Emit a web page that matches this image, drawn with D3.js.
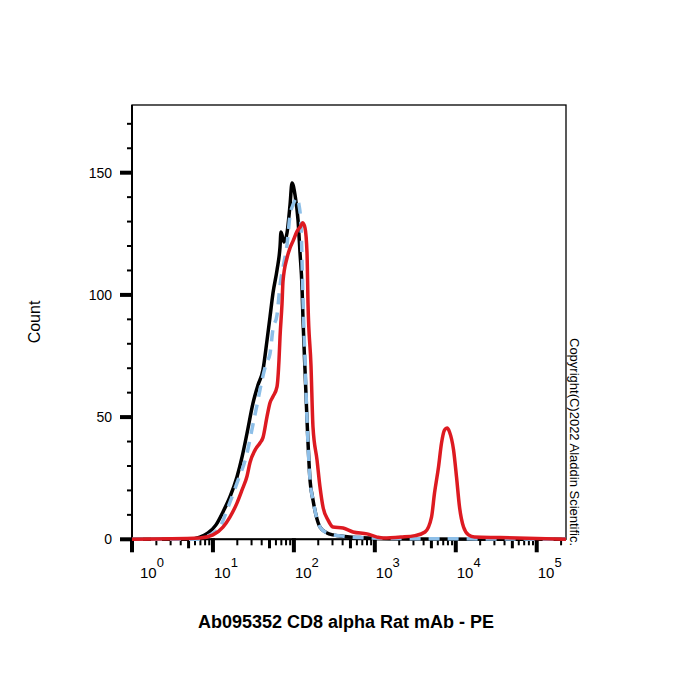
<!DOCTYPE html>
<html>
<head>
<meta charset="utf-8">
<script src="https://cdn.jsdelivr.net/npm/d3@7"></script>
<style>
  body { margin: 0; background: #fff; }
  text { font-family: "Liberation Sans", Arial, sans-serif; fill: #000; }
</style>
</head>
<body>
<div id="chart"></div>
<script>
// histogram traces (x = PE intensity, y = count)
var blackX = [1, 5.2, 6.9, 8.7, 10.9, 13.3, 16.2, 19.8, 22.9, 26.4, 31.3, 36.0, 41.5, 46.6, 50.7, 55.2, 61.9, 67.4, 69.3, 75.5, 82.2, 89.6, 94.8, 103.3, 112.5, 119.1, 126.0, 129.7, 137.2, 145.3, 158.2, 172.2, 187.6, 210.2, 256.6, 304.1, 428.5, 656, 1159, 3615, 230000];
var blackY = [0, 0, 0.9, 2.6, 5.9, 11.2, 17.3, 25.5, 33.7, 43.5, 55.8, 63.1, 69.3, 81.5, 91.0, 100.8, 110.2, 119.6, 125.7, 121.6, 125.3, 136.8, 145.8, 140.9, 130.6, 117.1, 103.2, 89.7, 69.3, 48.8, 24.3, 16.1, 9.9, 5.0, 2.6, 1.8, 1.1, 0.7, 0.3, 0.1, 0];

var blueX = [1, 6.0, 8.0, 9.7, 12.2, 15.4, 19.8, 26.4, 30.4, 35.0, 40.4, 45.3, 50.7, 55.2, 61.9, 67.4, 75.5, 82.2, 89.6, 97.5, 109.3, 115.7, 122.5, 126.0, 129.7, 137.2, 145.3, 158.2, 172.2, 187.6, 210.2, 256.6, 371.5, 656, 2049, 11270, 230000];
var blueY = [0, 0, 0.9, 2.2, 5.0, 13.2, 23.0, 35.3, 45.1, 54.9, 65.2, 71.7, 76.0, 86.1, 91.8, 104.0, 113.4, 120.4, 132.7, 136.8, 139.6, 136.8, 128.6, 114.3, 97.9, 73.4, 48.8, 24.3, 16.1, 9.9, 5.0, 2.6, 1.4, 0.7, 0.3, 0.2, 0];

var redX = [1, 6.9, 10.0, 13.3, 16.2, 19.8, 22.9, 26.4, 28.7, 33.1, 38.1, 41.5, 46.6, 50.7, 55.2, 61.9, 65.5, 67.4, 71.3, 73.4, 82.2, 89.6, 97.5, 109.3, 120.8, 128.5, 137.2, 145.3, 149.4, 162.7, 172.2, 193.2, 210.2, 229, 264, 304, 405, 538, 800, 1064, 1262, 2105, 3138, 4170, 5015, 5462, 6120, 6666, 7261, 7796, 8371, 9380, 10215, 11125, 12470, 14360, 17030, 35220, 230000];
var redY = [0, 0.5, 1.8, 5.0, 9.1, 14.8, 20.2, 25.9, 31.4, 36.5, 39.4, 41.6, 50.3, 55.9, 58.4, 62.5, 73.4, 82.8, 96.2, 105.6, 115.1, 119.2, 122.0, 126.0, 128.0, 129.5, 127.4, 117.1, 96.7, 71.0, 45.9, 32.4, 21.4, 13.2, 7.9, 5.0, 4.6, 3.0, 2.2, 0.9, 0.5, 0.9, 1.5, 3.0, 9.1, 18.9, 29.6, 39.4, 44.7, 45.5, 43.9, 36.6, 25.5, 13.2, 5.0, 1.8, 0.9, 0.7, 0];

var xDecades = [1, 10, 100, 1000, 10000, 100000];
var xExponents = ["0", "1", "2", "3", "4", "5"];
var yMajor = [0, 50, 100, 150];

var xTitle = "Ab095352 CD8 alpha Rat mAb - PE";
var yTitle = "Count";
var copyright = "Copyright(C)2022 Aladdin Scientific.";

var W = 700, H = 700;
var plotL = 132, plotR = 566, plotT = 105, plotB = 539.3;

var svg = d3.select("#chart").append("svg")
    .attr("width", W)
    .attr("height", H);

var x = d3.scaleLog().domain([1, 230000]).range([plotL, plotR]);
var y = d3.scaleLinear().domain([0, 177.7]).range([plotB, plotT]);

// frame
svg.append("rect")
    .attr("x", plotL).attr("y", plotT)
    .attr("width", plotR - plotL).attr("height", plotB - plotT)
    .attr("fill", "none").attr("stroke", "#000").attr("stroke-width", 1.3);

// y axis ticks
var yMinor = d3.range(0, 178, 10).filter(v => yMajor.indexOf(v) < 0);
svg.selectAll(".ymin").data(yMinor).enter().append("line")
    .attr("x1", plotL - 5).attr("x2", plotL)
    .attr("y1", d => y(d)).attr("y2", d => y(d))
    .attr("stroke", "#000").attr("stroke-width", 2);
svg.selectAll(".ymaj").data(yMajor).enter().append("line")
    .attr("x1", plotL - 12).attr("x2", plotL)
    .attr("y1", d => y(d)).attr("y2", d => y(d))
    .attr("stroke", "#000").attr("stroke-width", 4);
svg.selectAll(".ylab").data(yMajor).enter().append("text")
    .attr("x", 112).attr("y", d => y(d) + 5)
    .attr("text-anchor", "end")
    .style("font-size", "14px")
    .text(d => d);

// x axis ticks (log decades + 2..9 minors)
var xMinor = [];
xDecades.forEach(function(d) {
    for (var k = 2; k <= 9; k++) if (d * k <= 230000) xMinor.push(d * k);
});
svg.selectAll(".xmin").data(xMinor).enter().append("line")
    .attr("x1", d => x(d)).attr("x2", d => x(d))
    .attr("y1", plotB).attr("y2", d => String(d)[0] == "5" ? plotB + 9 : plotB + 6)
    .attr("stroke", "#000").attr("stroke-width", d => String(d)[0] == "5" ? 3 : 2);
svg.selectAll(".xmaj").data(xDecades).enter().append("line")
    .attr("x1", d => x(d)).attr("x2", d => x(d))
    .attr("y1", plotB - 1).attr("y2", plotB + 13)
    .attr("stroke", "#000").attr("stroke-width", 4);

// axis lines
svg.append("line").attr("x1", plotL).attr("x2", plotL).attr("y1", plotT).attr("y2", plotB + 1)
    .attr("stroke", "#000").attr("stroke-width", 2);
svg.append("line").attr("x1", plotL).attr("x2", plotR).attr("y1", plotB).attr("y2", plotB)
    .attr("stroke", "#000").attr("stroke-width", 2);

var xl = svg.selectAll(".xlab").data(xDecades).enter().append("text")
    .attr("x", d => Math.max(x(d) + 1, 140))
    .attr("y", 578)
    .style("font-size", "15px");
xl.append("tspan").text("10");
xl.append("tspan").attr("dy", -11).style("font-size", "13px").text((d, i) => xExponents[i]);

// histogram traces
var line = d3.line()
    .x(d => x(d[0]))
    .y(d => y(d[1]))
    .curve(d3.curveMonotoneX);

svg.append("path")
    .attr("d", line(d3.zip(blackX, blackY)))
    .attr("fill", "none").attr("stroke", "#000").attr("stroke-width", 3.5);
svg.append("path")
    .attr("d", line(d3.zip(blueX, blueY)))
    .attr("fill", "none").attr("stroke", "#8dbfe8").attr("stroke-width", 3.5)
    .attr("stroke-dasharray", "11,8");
svg.append("path")
    .attr("d", line(d3.zip(redX, redY)))
    .attr("fill", "none").attr("stroke", "#dd1a21").attr("stroke-width", 3.5);

// titles
svg.append("text")
    .attr("x", 346).attr("y", 628)
    .attr("text-anchor", "middle")
    .style("font-size", "18px").style("font-weight", "bold")
    .text(xTitle);

svg.append("text")
    .attr("transform", "translate(40, 322) rotate(-90)")
    .attr("text-anchor", "middle")
    .style("font-size", "16px")
    .text(yTitle);

svg.append("text")
    .attr("transform", "translate(570, 338) rotate(90)")
    .style("font-size", "13px")
    .text(copyright);
</script>
</body>
</html>
